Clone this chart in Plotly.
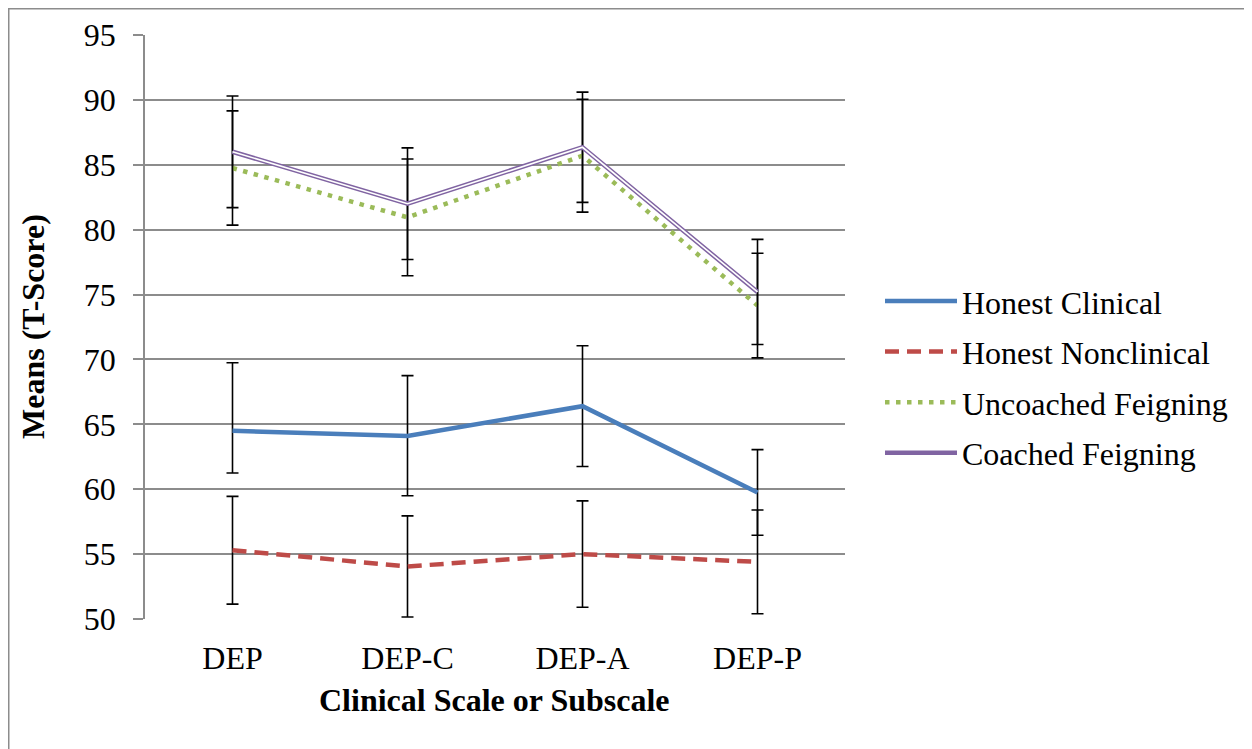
import plotly.graph_objects as go

categories = ["DEP", "DEP-C", "DEP-A", "DEP-P"]

honest_clinical = [64.5, 64.1, 66.4, 59.75]
honest_clinical_err_plus = [5.25, 4.65, 4.65, 3.3]
honest_clinical_err_minus = [3.25, 4.6, 4.65, 3.3]

honest_nonclinical = [55.3, 54.05, 55.0, 54.4]
honest_nonclinical_err = [4.15, 3.9, 4.1, 4.0]

uncoached = [84.75, 80.95, 85.7, 74.15]
uncoached_err = [4.4, 4.5, 4.35, 4.03]

coached = [86.0, 82.0, 86.35, 75.2]
coached_err = [4.3, 4.3, 4.25, 4.05]

y_ticks = [50, 55, 60, 65, 70, 75, 80, 85, 90, 95]

FONT = "'Liberation Serif', 'Times New Roman', serif"
GRID = "#8c8c8c"
FS = 32

# page body has an 8px margin, so margins are shifted by 8px
L, T = 137, 27
PLOT_W, PLOT_H = 700, 584

def err(plus, minus=None):
    d = dict(type="data", array=plus, symmetric=minus is None, color="black",
             thickness=1.6, width=6)
    if minus is not None:
        d["arrayminus"] = minus
    return d

fig = go.Figure()
fig.add_trace(go.Scatter(
    x=categories, y=honest_clinical, name="Honest Clinical", mode="lines",
    line=dict(color="#4a7ebb", width=4.5), legendgroup="a",
    error_y=err(honest_clinical_err_plus, honest_clinical_err_minus)))
fig.add_trace(go.Scatter(
    x=categories, y=honest_nonclinical, name="Honest Nonclinical", mode="lines",
    line=dict(color="#be4b48", width=4.5, dash="14px,8px"), legendgroup="b",
    error_y=err(honest_nonclinical_err)))
fig.add_trace(go.Scatter(
    x=categories, y=uncoached, name="Uncoached Feigning", mode="lines",
    line=dict(color="#9bbb59", width=4.5, dash="4.5px,6.5px"), legendgroup="c",
    error_y=err(uncoached_err)))
fig.add_trace(go.Scatter(
    x=categories, y=coached, name="Coached Feigning", mode="lines",
    line=dict(color="#8064a2", width=4.6), legendgroup="d",
    error_y=err(coached_err)))
fig.add_trace(go.Scatter(
    x=categories, y=coached, mode="lines", showlegend=False, hoverinfo="skip",
    line=dict(color="white", width=1.6), legendgroup="d"))

fig.update_layout(
    width=1252, height=749,
    margin=dict(l=L, r=1252 - L - PLOT_W, t=T, b=749 - T - PLOT_H, autoexpand=False),
    paper_bgcolor="white", plot_bgcolor="white",
    font=dict(family=FONT, size=FS, color="black"),
    showlegend=True,
    legend=dict(x=1.05, xanchor="left", y=0.414, yanchor="middle",
                font=dict(family=FONT, size=FS, color="black"),
                itemwidth=72,
                tracegroupgap=6, bgcolor="rgba(0,0,0,0)"),
    xaxis=dict(type="category", range=[-0.5, 3.5], showgrid=False, ticks="",
               showline=False, zeroline=False, automargin=False,
               tickfont=dict(family=FONT, size=FS), ticklabelstandoff=17),
    yaxis=dict(range=[50, 95], tickvals=y_ticks, showgrid=True, gridcolor=GRID,
               gridwidth=1.5, showline=True, linecolor=GRID, linewidth=1.5,
               ticks="outside", ticklen=10, tickcolor=GRID, tickwidth=1.5,
               zeroline=False, automargin=False,
               tickfont=dict(family=FONT, size=FS), ticklabelstandoff=11),
    annotations=[
        dict(text="<b>Clinical Scale or Subscale</b>", xref="paper", yref="paper",
             x=(494 - 8 - L) / PLOT_W, y=(T + PLOT_H - 692) / PLOT_H,
             xanchor="center", yanchor="middle",
             showarrow=False, font=dict(family=FONT, size=FS)),
        dict(text="<b>Means (T-Score)</b>", xref="paper", yref="paper",
             x=(33 - 8 - L) / PLOT_W, y=(T + PLOT_H - 319) / PLOT_H,
             xanchor="center", yanchor="middle", textangle=-90,
             showarrow=False, font=dict(family=FONT, size=FS)),
    ],
    shapes=[
        dict(type="rect", xref="paper", yref="paper",
             x0=(0.75 - L) / PLOT_W, x1=2.0,
             y0=-1.0, y1=(T + PLOT_H - 0.75) / PLOT_H,
             line=dict(color="#8c8c8c", width=1.5),
             fillcolor="rgba(0,0,0,0)", layer="below"),
    ],
)

fig.write_html("out.html")
